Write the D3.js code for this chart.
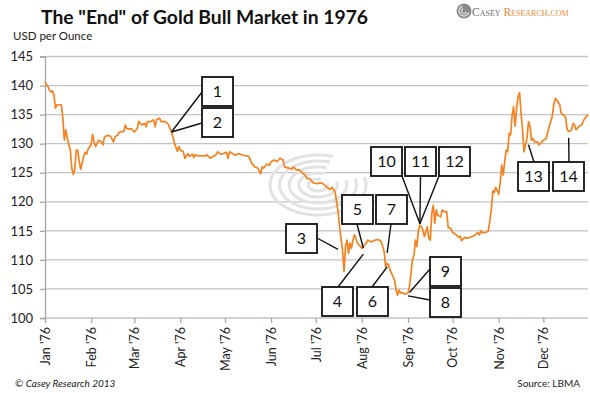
<!DOCTYPE html>
<html>
<head>
<meta charset="utf-8">
<script src="https://cdn.jsdelivr.net/npm/d3@7"></script>
<style>
  body { margin: 0; background: #fff; }
  svg { display: block; font-family: Lato, "Open Sans", sans-serif; }
</style>
</head>
<body>
<svg id="chart" width="590" height="393"></svg>
<script>
// daily London fix, 1976
const dates = [
  "1976-01-01","1976-01-03","1976-01-04","1976-01-05","1976-01-06","1976-01-07","1976-01-08","1976-01-09",
  "1976-01-12","1976-01-13","1976-01-14","1976-01-15","1976-01-16","1976-01-17","1976-01-18","1976-01-19",
  "1976-01-20","1976-01-21","1976-01-22","1976-01-23","1976-01-24","1976-01-25","1976-01-27","1976-01-28",
  "1976-01-29","1976-01-30","1976-02-01","1976-02-02","1976-02-03","1976-02-04","1976-02-06","1976-02-08",
  "1976-02-09","1976-02-10","1976-02-12","1976-02-14","1976-02-16","1976-02-17","1976-02-19","1976-02-20",
  "1976-02-23","1976-02-24","1976-02-25","1976-02-27","1976-02-28","1976-03-01","1976-03-03","1976-03-04",
  "1976-03-06","1976-03-08","1976-03-09","1976-03-10","1976-03-12","1976-03-14","1976-03-15","1976-03-16",
  "1976-03-18","1976-03-19","1976-03-21","1976-03-22","1976-03-24","1976-03-25","1976-03-26","1976-03-27",
  "1976-03-28","1976-03-30","1976-03-31","1976-04-01","1976-04-03","1976-04-04","1976-04-06","1976-04-07",
  "1976-04-09","1976-04-10","1976-04-11","1976-04-13","1976-04-15","1976-04-18","1976-04-19","1976-04-21",
  "1976-04-23","1976-04-25","1976-04-26","1976-04-28","1976-04-30","1976-05-02","1976-05-03","1976-05-04",
  "1976-05-08","1976-05-10","1976-05-13","1976-05-17","1976-05-19","1976-05-21","1976-05-23","1976-05-25",
  "1976-05-26","1976-05-27","1976-05-29","1976-05-31","1976-06-01","1976-06-03","1976-06-05","1976-06-07",
  "1976-06-09","1976-06-10","1976-06-13","1976-06-15","1976-06-16","1976-06-18","1976-06-20","1976-06-22",
  "1976-06-24","1976-06-25","1976-06-27","1976-06-29","1976-07-02","1976-07-04","1976-07-06","1976-07-08",
  "1976-07-11","1976-07-12","1976-07-14","1976-07-16","1976-07-17","1976-07-19","1976-07-20","1976-07-21",
  "1976-07-22","1976-07-23","1976-07-24","1976-07-25","1976-07-26","1976-07-27","1976-07-28","1976-07-29",
  "1976-07-30","1976-07-31","1976-08-01","1976-08-03","1976-08-04","1976-08-05","1976-08-07","1976-08-09",
  "1976-08-11","1976-08-13","1976-08-14","1976-08-15","1976-08-16","1976-08-17","1976-08-18","1976-08-19",
  "1976-08-20","1976-08-21","1976-08-23","1976-08-24","1976-08-25","1976-08-26","1976-08-27","1976-08-28",
  "1976-08-30","1976-09-01","1976-09-02","1976-09-03","1976-09-04","1976-09-05","1976-09-06","1976-09-07",
  "1976-09-08","1976-09-09","1976-09-10","1976-09-11","1976-09-12","1976-09-14","1976-09-15","1976-09-16",
  "1976-09-17","1976-09-18","1976-09-19","1976-09-20","1976-09-21","1976-09-23","1976-09-24","1976-09-25",
  "1976-09-27","1976-09-28","1976-09-30","1976-10-01","1976-10-03","1976-10-05","1976-10-06","1976-10-07",
  "1976-10-09","1976-10-10","1976-10-13","1976-10-14","1976-10-16","1976-10-18","1976-10-19","1976-10-20",
  "1976-10-21","1976-10-23","1976-10-24","1976-10-25","1976-10-26","1976-10-27","1976-10-28","1976-10-29",
  "1976-10-30","1976-11-01","1976-11-02","1976-11-03","1976-11-04","1976-11-05","1976-11-06","1976-11-07",
  "1976-11-08","1976-11-09","1976-11-10","1976-11-11","1976-11-12","1976-11-13","1976-11-14","1976-11-15",
  "1976-11-16","1976-11-17","1976-11-18","1976-11-19","1976-11-20","1976-11-21","1976-11-22","1976-11-23",
  "1976-11-24","1976-11-25","1976-11-27","1976-11-28","1976-11-30","1976-12-01","1976-12-03","1976-12-04",
  "1976-12-05","1976-12-07","1976-12-08","1976-12-09","1976-12-10","1976-12-12","1976-12-13","1976-12-15",
  "1976-12-16","1976-12-17","1976-12-18","1976-12-20","1976-12-21","1976-12-22","1976-12-23","1976-12-25",
  "1976-12-27","1976-12-28","1976-12-30","1976-12-31"
];
const prices = [
  140.6,139.8,139.2,138.9,139.1,138.4,136.1,136.7,
  136.7,134.4,130.6,132.4,130.9,129.8,128.9,125.8,
  124.7,125.5,128.9,128.9,126.9,125.6,127.8,128.5,
  128.2,129.1,129.8,131.6,130.3,129.5,130.6,130.3,
  129.8,131.2,131.4,131.3,130.3,131.2,131.5,132.0,
  132.1,133.2,132.6,132.5,132.6,132.0,132.6,133.8,
  133.2,133.5,132.9,133.8,133.8,134.1,132.9,134.1,
  134.4,133.8,133.8,133.8,133.3,132.6,132.1,131.2,
  130.1,128.7,129.5,128.9,128.6,127.5,128.3,127.8,
  128.2,127.6,128.1,127.9,127.9,127.9,128.1,127.5,
  127.8,128.1,128.6,128.2,128.3,128.5,127.5,128.6,
  128.0,128.3,128.0,127.8,126.6,126.0,125.8,124.8,
  126.0,125.8,126.5,126.3,126.9,127.2,126.9,127.5,
  127.2,126.0,125.8,125.6,126.0,125.5,125.5,124.9,
  124.6,124.0,124.0,123.3,123.1,123.3,123.1,122.6,
  122.1,122.5,121.7,118.3,115.7,111.7,108.0,112.3,
  113.4,111.1,112.9,112.0,113.4,114.3,113.7,112.9,
  112.6,112.3,112.0,112.6,112.9,113.4,113.1,113.3,
  113.5,113.4,113.1,112.3,111.4,108.8,109.4,109.1,
  108.2,107.7,106.5,104.8,103.9,104.8,104.3,104.4,
  104.1,104.3,105.4,107.7,110.0,110.8,113.4,112.3,
  115.1,116.0,115.7,115.1,114.0,115.7,113.7,113.4,
  118.0,119.4,116.3,118.6,117.7,117.4,118.6,118.3,
  118.3,115.6,115.3,114.7,114.4,113.9,114.1,113.3,
  113.9,113.7,113.9,114.0,114.3,114.7,114.3,115.0,
  114.7,114.7,114.8,115.0,116.7,118.7,121.9,121.6,
  122.5,121.3,123.3,126.3,124.6,126.9,128.9,128.6,
  131.8,131.5,134.9,136.4,133.0,136.1,138.1,138.8,
  135.2,132.4,128.6,129.8,130.9,133.8,133.0,130.6,
  130.9,130.3,130.3,129.8,130.3,130.6,130.9,132.1,
  133.0,134.7,136.7,137.8,137.5,136.7,135.2,134.9,
  134.4,132.4,132.1,132.4,133.5,133.2,132.4,133.0,
  133.3,134.0,134.7,135.0
];
const yTicks = [100, 105, 110, 115, 120, 125, 130, 135, 140, 145];

// numbered call-outs and the point each one marks
const noteLabels = ["1","2","3","4","5","6","7","8","9","10","11","12","13","14"];
const noteDates = ["1976-03-26","1976-03-26","1976-07-16","1976-08-02","1976-08-02","1976-08-18","1976-08-18",
                   "1976-09-01","1976-09-02","1976-09-09","1976-09-09","1976-09-09","1976-11-21","1976-12-18"];
const notePrices = [132.0,132.0,111.8,111.0,112.0,108.8,111.2,103.8,104.4,116.2,116.2,116.2,129.8,131.0];

// layout of the boxes (left, top) and where the leader leaves each box
const boxPos = [[202,77],[202,108],[286,224],[322,287],[342,195],[357,287],[376,195],
                [430,288],[430,257],[371,147],[405,147],[439,147],[518,162],[553,162]];
const boxAttach = [[202,92],[202,123],[317,238],[338,287],[357,224],[372,287],[391,224],
                   [430,300],[430,269],[402,176],[420.5,176],[439,176],[534,162],[569,162]];
const boxW = 31, boxH = 29;

const parse = d3.timeParse("%Y-%m-%d");
const series = dates.map((d, i) => ({ date: parse(d), value: prices[i] }));

const svg = d3.select("#chart");
const margin = { left: 45, right: 2, top: 56.5, bottom: 75 };
const width = 590, height = 393;

const x = d3.scaleTime()
  .domain([parse("1976-01-01"), parse("1976-12-31")])
  .range([margin.left, width - margin.right]);
const y = d3.scaleLinear()
  .domain([100, 145])
  .range([height - margin.bottom, margin.top]);

// gridlines
svg.append("g")
  .attr("class", "grid")
  .selectAll("line")
  .data(yTicks)
  .join("line")
  .attr("x1", margin.left)
  .attr("x2", width - margin.right)
  .attr("y1", d => y(d))
  .attr("y2", d => y(d))
  .attr("stroke", "#c3c3c3")
  .attr("stroke-width", 1.3);

// watermark swirl (open towards the upper right)
const wm = svg.append("g").attr("fill", "none").attr("stroke", "#e2e2e2").attr("stroke-width", 3);
[6, 12, 18, 24, 30].forEach(r => {
  const pts = d3.range(75, 381, 3).map(a => {
    const t = a * Math.PI / 180;
    return [318 + 1.6 * r * Math.sin(t), 185 - r * Math.cos(t)];
  });
  wm.append("path").attr("d", d3.line()(pts));
});

// y axis
const yAxis = d3.axisLeft(y).tickValues(yTicks).tickSize(5).tickPadding(7);
svg.append("g")
  .attr("transform", `translate(${margin.left},0)`)
  .call(yAxis)
  .call(g => g.select(".domain").attr("stroke", "#a6a6a6").attr("stroke-width", 1.3))
  .call(g => g.selectAll(".tick line").attr("stroke", "#a6a6a6").attr("stroke-width", 1.3))
  .call(g => g.selectAll(".tick text").attr("font-size", 13).attr("fill", "#222").attr("font-family", "Lato"));

// x axis
const xAxis = d3.axisBottom(x)
  .ticks(d3.timeMonth.every(1))
  .tickFormat(d3.timeFormat("%b '%y"))
  .tickSize(5)
  .tickSizeOuter(0);
svg.append("g")
  .attr("transform", `translate(0,${y(100)})`)
  .call(xAxis)
  .call(g => g.select(".domain").remove())
  .call(g => g.selectAll(".tick line").attr("stroke", "#a6a6a6").attr("stroke-width", 1.3))
  .call(g => g.selectAll(".tick text")
    .attr("font-size", 12.5)
    .attr("fill", "#222")
    .attr("font-family", "Lato")
    .attr("text-anchor", "end")
    .attr("transform", "rotate(-90)")
    .attr("x", -9)
    .attr("y", 0)
    .attr("dy", "0.35em"));

// the price line
const line = d3.line().x(d => x(d.date)).y(d => y(d.value));
svg.append("path")
  .datum(series)
  .attr("fill", "none")
  .attr("stroke", "#f5821f")
  .attr("stroke-width", 1.7)
  .attr("stroke-linejoin", "round")
  .attr("d", line);

// call-outs
const notes = svg.append("g").attr("class", "notes");
noteLabels.forEach((lbl, i) => {
  const tx = x(parse(noteDates[i])), ty = y(notePrices[i]);
  notes.append("line")
    .attr("x1", boxAttach[i][0]).attr("y1", boxAttach[i][1])
    .attr("x2", tx).attr("y2", ty)
    .attr("stroke", "#111").attr("stroke-width", 1.4);
});
noteLabels.forEach((lbl, i) => {
  const g = notes.append("g").attr("transform", `translate(${boxPos[i][0]},${boxPos[i][1]})`);
  g.append("rect")
    .attr("width", boxW).attr("height", boxH)
    .attr("fill", "#fff").attr("stroke", "#111").attr("stroke-width", 1.8);
  g.append("text")
    .attr("x", boxW / 2).attr("y", boxH / 2)
    .attr("dy", "0.36em")
    .attr("text-anchor", "middle")
    .attr("font-size", 16)
    .attr("fill", "#111")
    .text(lbl);
});

// titles and credits
svg.append("text")
  .attr("x", 41).attr("y", 24)
  .attr("font-size", 19.3).attr("font-weight", "bold").attr("fill", "#111")
  .text('The "End" of Gold Bull Market in 1976');
svg.append("text")
  .attr("x", 13).attr("y", 40)
  .attr("font-size", 11.5).attr("fill", "#222")
  .text("USD per Ounce");
svg.append("text")
  .attr("x", 15).attr("y", 387)
  .attr("font-size", 10).attr("font-style", "italic").attr("fill", "#222")
  .text("\u00a9 Casey Research 2013");
svg.append("text")
  .attr("x", 580).attr("y", 387)
  .attr("text-anchor", "end")
  .attr("font-size", 10).attr("fill", "#222")
  .text("Source: LBMA");

// logo
const logo = svg.append("g");
logo.append("circle").attr("cx", 464).attr("cy", 11).attr("r", 7.5).attr("fill", "#8a8a8a");
[2.5, 5].forEach(r => {
  logo.append("path")
    .attr("transform", "translate(464,11)")
    .attr("d", d3.arc().innerRadius(r - 0.7).outerRadius(r + 0.7).startAngle(Math.PI * 0.6).endAngle(Math.PI * 1.9)())
    .attr("fill", "#d8d8d8");
});
const logoText = logo.append("text")
  .attr("x", 472).attr("y", 15.5)
  .attr("font-family", "'Liberation Serif', 'DejaVu Serif', serif")
  .attr("font-size", 11.5)
  .attr("font-variant", "small-caps");
logoText.append("tspan").attr("fill", "#6b6b6b").text("Casey");
logoText.append("tspan").attr("fill", "#ee8a3a").text(" Research.com");
</script>
</body>
</html>
